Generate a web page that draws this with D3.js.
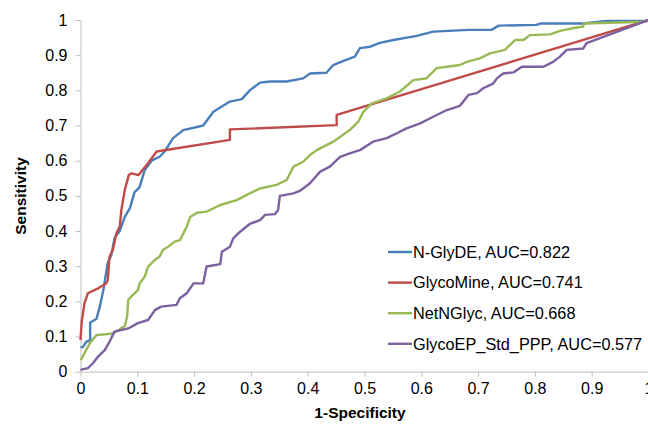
<!DOCTYPE html>
<html>
<head>
<meta charset="utf-8">
<script src="https://cdn.jsdelivr.net/npm/d3@7"></script>
<style>
  body { margin: 0; background: #fff; }
  svg text { font-family: "Liberation Sans", Arial, sans-serif; fill: #000; }
  .axis path, .axis line { stroke: #bfbfbf; }
</style>
</head>
<body>
<div id="chart"></div>
<script>
// ROC points [1-specificity, sensitivity]
const nglyde = [[0,0.07],[0.004,0.07],[0.01,0.085],[0.017,0.09],[0.017,0.14],[0.028,0.15],[0.034,0.185],[0.04,0.23],[0.045,0.28],[0.048,0.31],[0.054,0.33],[0.06,0.38],[0.069,0.40],[0.078,0.44],[0.087,0.465],[0.095,0.51],[0.104,0.525],[0.113,0.573],[0.125,0.60],[0.14,0.612],[0.148,0.626],[0.163,0.664],[0.181,0.687],[0.216,0.70],[0.234,0.739],[0.263,0.768],[0.284,0.775],[0.298,0.80],[0.316,0.822],[0.334,0.825],[0.363,0.825],[0.392,0.834],[0.404,0.848],[0.433,0.85],[0.445,0.872],[0.463,0.884],[0.483,0.896],[0.492,0.92],[0.51,0.924],[0.527,0.935],[0.551,0.943],[0.592,0.955],[0.621,0.967],[0.683,0.972],[0.724,0.972],[0.736,0.984],[0.803,0.986],[0.809,0.99],[0.885,0.99],[0.926,0.997],[0.997,0.997],[1,1]];
const glycomine = [[0,0.09],[0.002,0.14],[0.007,0.195],[0.013,0.223],[0.031,0.237],[0.045,0.251],[0.048,0.26],[0.051,0.327],[0.057,0.346],[0.063,0.393],[0.069,0.412],[0.072,0.46],[0.078,0.517],[0.085,0.559],[0.09,0.564],[0.102,0.559],[0.119,0.593],[0.134,0.626],[0.263,0.659],[0.263,0.689],[0.451,0.701],[0.451,0.73],[1,1]];
const netnglyc = [[0,0.033],[0.004,0.043],[0.01,0.062],[0.016,0.08],[0.028,0.104],[0.054,0.108],[0.066,0.117],[0.078,0.13],[0.082,0.156],[0.084,0.204],[0.092,0.218],[0.101,0.232],[0.104,0.251],[0.113,0.27],[0.119,0.299],[0.131,0.318],[0.139,0.327],[0.145,0.346],[0.154,0.355],[0.166,0.37],[0.175,0.374],[0.187,0.412],[0.193,0.44],[0.205,0.452],[0.222,0.455],[0.246,0.474],[0.275,0.488],[0.298,0.507],[0.316,0.521],[0.345,0.531],[0.363,0.545],[0.375,0.583],[0.392,0.597],[0.404,0.616],[0.416,0.63],[0.445,0.654],[0.474,0.687],[0.489,0.711],[0.498,0.739],[0.513,0.763],[0.539,0.777],[0.562,0.796],[0.586,0.829],[0.609,0.834],[0.627,0.863],[0.645,0.867],[0.668,0.872],[0.68,0.881],[0.703,0.891],[0.721,0.905],[0.747,0.915],[0.765,0.943],[0.78,0.943],[0.791,0.957],[0.827,0.959],[0.844,0.969],[0.871,0.978],[0.885,0.981],[0.886,0.99],[0.991,0.995],[1,1]];
const glycoep = [[0,0.005],[0.013,0.01],[0.022,0.024],[0.031,0.043],[0.043,0.062],[0.051,0.085],[0.06,0.114],[0.084,0.123],[0.101,0.138],[0.119,0.147],[0.131,0.175],[0.142,0.185],[0.169,0.19],[0.175,0.209],[0.187,0.223],[0.199,0.251],[0.216,0.251],[0.222,0.299],[0.246,0.306],[0.249,0.341],[0.263,0.355],[0.269,0.379],[0.281,0.398],[0.298,0.42],[0.316,0.431],[0.325,0.446],[0.342,0.448],[0.348,0.46],[0.351,0.5],[0.375,0.507],[0.386,0.514],[0.404,0.536],[0.422,0.569],[0.439,0.583],[0.457,0.611],[0.474,0.621],[0.492,0.63],[0.515,0.654],[0.539,0.664],[0.557,0.678],[0.574,0.692],[0.598,0.706],[0.621,0.725],[0.645,0.744],[0.668,0.756],[0.683,0.787],[0.698,0.792],[0.709,0.806],[0.727,0.82],[0.733,0.834],[0.744,0.848],[0.762,0.851],[0.777,0.867],[0.815,0.867],[0.832,0.881],[0.844,0.896],[0.856,0.915],[0.885,0.919],[0.891,0.934],[1,1]];

const seriesNames = ["N-GlyDE, AUC=0.822", "GlycoMine, AUC=0.741", "NetNGlyc, AUC=0.668", "GlycoEP_Std_PPP, AUC=0.577"];
const seriesData = [nglyde, glycomine, netnglyc, glycoep];
const seriesColors = ["#4a7ebb", "#be4b48", "#98b954", "#7d60a0"];
const tickValues = [0, 0.1, 0.2, 0.3, 0.4, 0.5, 0.6, 0.7, 0.8, 0.9, 1];

const W = 648, H = 425;
const margin = {top: 20, right: -0.5, bottom: 53.3, left: 80.5};
const width = W - margin.left - margin.right,
      height = H - margin.top - margin.bottom;

const svg = d3.select("#chart")
              .append("svg")
              .attr("width", W)
              .attr("height", H)
              .append("g")
              .attr("transform", `translate(${margin.left},${margin.top})`);

const x = d3.scaleLinear().domain([0, 1]).range([0, width]);
const y = d3.scaleLinear().domain([0, 1]).range([height, 0]);
const fmt = d => d3.format("~g")(d);

const xAxis = svg.append("g")
                 .attr("class", "axis x-axis")
                 .attr("transform", `translate(0,${height})`)
                 .call(d3.axisBottom(x).tickValues(tickValues).tickSize(5).tickSizeOuter(0).tickFormat(fmt));
xAxis.selectAll("text").attr("font-size", 16).attr("dy", "0.95em").attr("y", 7);

const yAxis = svg.append("g")
                 .attr("class", "axis y-axis")
                 .call(d3.axisLeft(y).tickValues(tickValues).tickSize(5).tickSizeOuter(0).tickFormat(fmt));
yAxis.selectAll("text").attr("font-size", 16).attr("x", -13);
svg.selectAll(".axis .domain").attr("stroke", "#bfbfbf");

const line = d3.line().x(d => x(d[0])).y(d => y(d[1]));

svg.selectAll("path.roc")
   .data(seriesData)
   .enter()
   .append("path")
   .attr("class", "roc")
   .attr("fill", "none")
   .attr("stroke", (d, i) => seriesColors[i])
   .attr("stroke-width", 2.4)
   .attr("stroke-linejoin", "round")
   .attr("d", line);

// axis titles
svg.append("text")
   .attr("x", 360 - margin.left)
   .attr("y", 418 - margin.top)
   .attr("text-anchor", "middle")
   .attr("font-size", 15.5)
   .attr("font-weight", "bold")
   .text("1-Specificity");
svg.append("text")
   .attr("transform", `translate(${26 - margin.left},${196 - margin.top}) rotate(-90)`)
   .attr("text-anchor", "middle")
   .attr("font-size", 15.5)
   .attr("font-weight", "bold")
   .text("Sensitivity");

// legend
const legend = svg.append("g")
                  .attr("transform", `translate(${388 - margin.left},${252 - margin.top})`);
const items = legend.selectAll("g")
                    .data(seriesNames)
                    .enter()
                    .append("g")
                    .attr("transform", (d, i) => `translate(0,${i * 30.6})`);
items.append("line")
     .attr("x1", 0).attr("x2", 24)
     .attr("stroke", (d, i) => seriesColors[i])
     .attr("stroke-width", 2.4);
items.append("text")
     .attr("x", 25)
     .attr("dy", "0.35em")
     .attr("font-size", 16.3)
     .text(d => d);
</script>
</body>
</html>
